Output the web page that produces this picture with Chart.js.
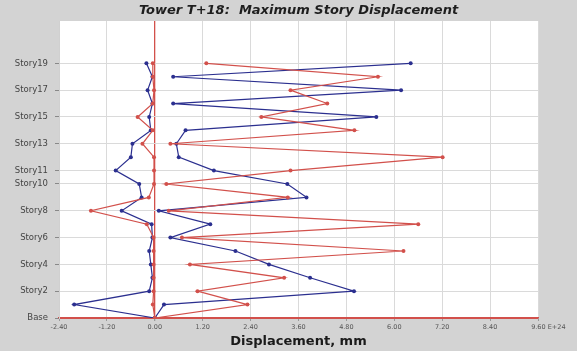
<!DOCTYPE html>
<html>
<head>
<meta charset="utf-8">
<script src="https://cdn.jsdelivr.net/npm/chart.js@4/dist/chart.umd.min.js"></script>
<style>
  html, body { margin: 0; padding: 0; background: #d3d3d3; }
  #wrap { width: 577px; height: 351px; }
</style>
</head>
<body>
<div id="wrap"><canvas id="chart-canvas" width="577" height="351"></canvas></div>
<script>
// story levels, Base = 0 ... Story19 = 19
const storyLevels = [0, 1, 2, 3, 4, 5, 6, 7, 8, 9, 10, 11, 12, 13, 14, 15, 16, 17, 18, 19];
const storyTicks = [0, 2, 4, 6, 8, 10, 11, 13, 15, 17, 19];
const dispTicks = [-2.4, -1.2, 0, 1.2, 2.4, 3.6, 4.8, 6.0, 7.2, 8.4, 9.6];

// displacements in mm, Base -> Story19
const redMax = [0, 2.32, 1.07, 3.24, 0.88, 6.23, 0.68, 6.60, 0.35, 3.33, 0.29, 3.40,
  7.21, 0.39, 5.00, 2.67, 4.32, 3.40, 5.59, 1.29];
const blueMax = [0, 0.23, 4.99, 3.89, 2.86, 2.02, 0.39, 1.39, 0.10, 3.80, 3.32, 1.48,
  0.60, 0.54, 0.77, 5.55, 0.46, 6.17, 0.46, 6.41];
const redMin = [0, -0.05, -0.03, -0.03, -0.03, -0.03, -0.03, -0.20, -1.60, -0.15, -0.02, -0.02,
  -0.02, -0.31, -0.05, -0.43, -0.05, -0.02, -0.05, -0.05];
const blueMin = [0, -2.02, -0.14, -0.06, -0.10, -0.14, -0.06, -0.08, -0.83, -0.33, -0.39, -0.98,
  -0.60, -0.56, -0.10, -0.14, -0.06, -0.18, -0.06, -0.21];

const RED = '#d2504b';
const BLUE = '#2b2f8f';

function toPoints(values) {
  return storyLevels.map((s, i) => ({ x: values[i], y: s }));
}

function series(label, values, color) {
  return {
    label,
    data: toPoints(values),
    showLine: true,
    borderColor: color,
    backgroundColor: color,
    borderWidth: 1.2,
    pointRadius: 2,
    pointBorderWidth: 0,
    tension: 0,
  };
}

function storyName(v) {
  return v === 0 ? 'Base' : 'Story' + v;
}

// white plotting area on the grey page
const plotBackground = {
  id: 'plotBackground',
  beforeDraw(chart) {
    const { ctx, chartArea } = chart;
    ctx.save();
    ctx.fillStyle = '#ffffff';
    ctx.fillRect(chartArea.left, chartArea.top, chartArea.width, chartArea.height);
    ctx.restore();
  }
};

const ctx = document.getElementById('chart-canvas').getContext('2d');
new Chart(ctx, {
  type: 'scatter',
  data: {
    datasets: [
      series('Red max', redMax, RED),
      series('Red min', redMin, RED),
      series('Blue max', blueMax, BLUE),
      series('Blue min', blueMin, BLUE),
    ]
  },
  options: {
    responsive: false,
    animation: false,
    devicePixelRatio: 1,
    layout: { padding: { left: 0, right: 39, top: 0, bottom: 0 } },
    plugins: {
      legend: { display: false },
      tooltip: { enabled: false },
      title: {
        display: true,
        fullSize: false, // centre over the plot, not the whole canvas
        text: 'Tower T+18:  Maximum Story Displacement',
        color: '#1e1e1e',
        font: { family: 'DejaVu Sans', size: 13, weight: 'bold', style: 'italic', lineHeight: 1.2 },
        padding: { top: 2.4, bottom: 3 }
      }
    },
    scales: {
      x: {
        type: 'linear',
        min: -2.4,
        max: 9.6,
        afterBuildTicks: scale => { scale.ticks = dispTicks.map(v => ({ value: v })); },
        afterFit: scale => { scale.height = 33; },
        ticks: {
          autoSkip: false,
          maxRotation: 0,
          padding: 2,
          color: '#555',
          font: { family: 'DejaVu Sans', size: 6.5 },
          callback: v => (v === 9.6 ? '          9.60 E+24' : v.toFixed(2))
        },
        grid: {
          color: c => (c.tick && c.tick.value === 0 ? RED : '#dadada'),
          lineWidth: c => (c.tick && c.tick.value === 0 ? 1.3 : 1),
          tickLength: 3,
          tickColor: '#999'
        },
        border: { color: RED, width: 1.3 },
        title: {
          display: true,
          text: 'Displacement, mm',
          color: '#1a1a1a',
          font: { family: 'DejaVu Sans', size: 13, weight: 'bold', lineHeight: 1.2 },
          padding: { top: 0, bottom: 1.5 }
        }
      },
      y: {
        type: 'linear',
        min: 0,
        max: 22.16,
        afterBuildTicks: scale => { scale.ticks = storyTicks.map(v => ({ value: v })); },
        afterFit: scale => { scale.width = 59; },
        ticks: {
          autoSkip: false,
          padding: 7,
          color: '#444',
          font: { family: 'DejaVu Sans', size: 8.5 },
          callback: v => storyName(v)
        },
        grid: {
          color: c => (c.tick && c.tick.value === 0 ? RED : '#dadada'),
          tickLength: 4,
          tickColor: '#888'
        },
        border: { color: '#d0d0d0' }
      }
    }
  },
  plugins: [plotBackground]
});
</script>
</body>
</html>
